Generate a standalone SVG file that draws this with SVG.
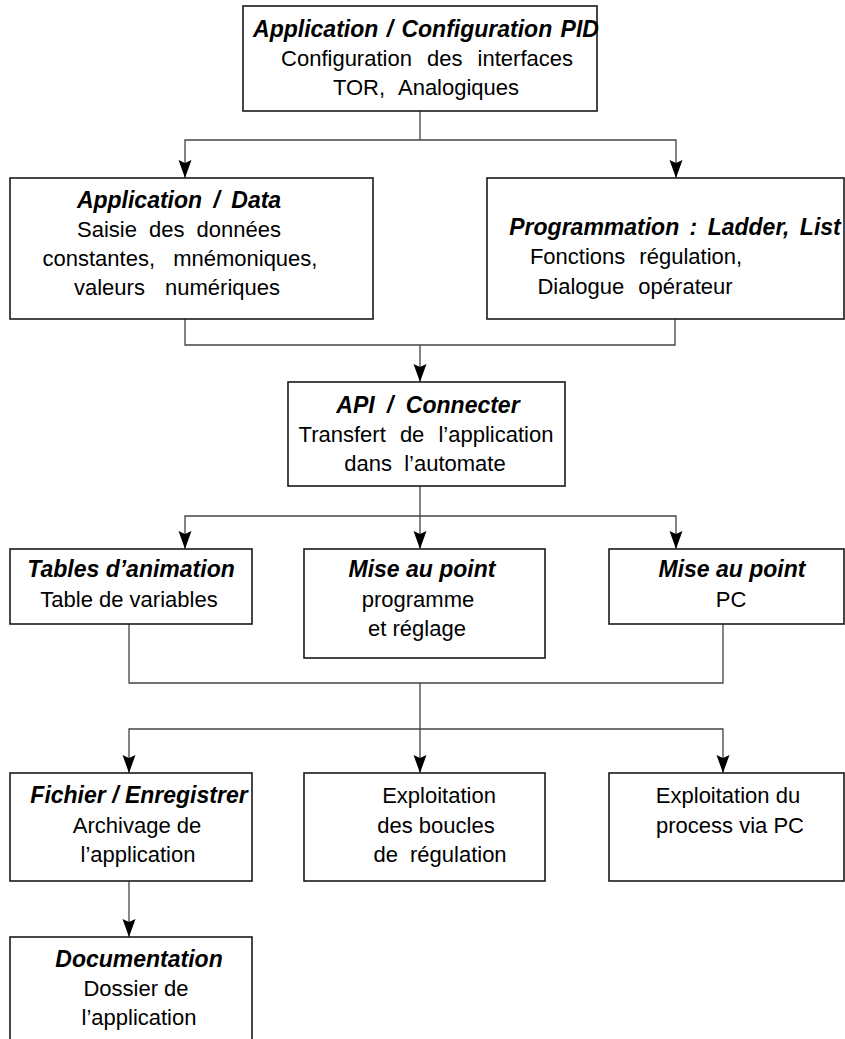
<svg xmlns="http://www.w3.org/2000/svg" width="845" height="1039" viewBox="0 0 845 1039">
<defs>
<style>
.box{fill:#fff;stroke:#1a1a1a;stroke-width:1.6}
.ln{fill:none;stroke:#444;stroke-width:1.3}
text{font-family:"Liberation Sans",Arial,sans-serif;font-size:22px;fill:#000;text-anchor:middle}
.t{font-weight:bold;font-style:italic;font-size:23px}
</style>
<marker id="ah" viewBox="-19 -8 20 16" refX="0" refY="0" markerWidth="20" markerHeight="16" markerUnits="userSpaceOnUse" orient="auto">
<path d="M0,0 L-18,-6.5 L-15,0 L-18,6.5 Z" fill="#000"/>
</marker>
</defs>
<rect width="845" height="1039" fill="#fff"/>
<g id="connectors">
<path class="ln" d="M420,111 V140"/>
<path class="ln" d="M420,140 H185 V178" marker-end="url(#ah)"/>
<path class="ln" d="M420,140 H676 V178" marker-end="url(#ah)"/>
<path class="ln" d="M185,319 V345 H675 V319"/>
<path class="ln" d="M420,345 V382" marker-end="url(#ah)"/>
<path class="ln" d="M420,486 V549" marker-end="url(#ah)"/>
<path class="ln" d="M420,516 H185 V549" marker-end="url(#ah)"/>
<path class="ln" d="M420,516 H676 V549" marker-end="url(#ah)"/>
<path class="ln" d="M129,624 V683 H723 V624"/>
<path class="ln" d="M420,683 V773" marker-end="url(#ah)"/>
<path class="ln" d="M420,729 H129 V773" marker-end="url(#ah)"/>
<path class="ln" d="M420,729 H723 V773" marker-end="url(#ah)"/>
<path class="ln" d="M129,881 V937" marker-end="url(#ah)"/>
</g>
<g id="n-config">
<rect class="box" x="243" y="6" width="354" height="105"/>
<text class="t" x="426" y="37" style="word-spacing:2px">Application / Configuration PID</text>
<text x="427" y="66" style="word-spacing:9px">Configuration des interfaces</text>
<text x="426" y="95" style="word-spacing:8px">TOR, Analogiques</text>
</g>
<g id="n-data">
<rect class="box" x="10" y="178" width="363" height="141"/>
<text class="t" x="179" y="208" style="word-spacing:5px">Application / Data</text>
<text x="179" y="237" style="word-spacing:6px">Saisie des données</text>
<text x="180" y="266" style="word-spacing:12px">constantes, mnémoniques,</text>
<text x="177" y="295" style="word-spacing:14px">valeurs numériques</text>
</g>
<g id="n-prog">
<rect class="box" x="487" y="178" width="357" height="141"/>
<text class="t" x="675" y="235" style="word-spacing:4px">Programmation : Ladder, List</text>
<text x="636" y="264" style="word-spacing:8px">Fonctions régulation,</text>
<text x="635" y="294" style="word-spacing:8px">Dialogue opérateur</text>
</g>
<g id="n-api">
<rect class="box" x="288" y="382" width="277" height="104"/>
<text class="t" x="428" y="413" style="word-spacing:6px">API / Connecter</text>
<text x="426" y="442" style="word-spacing:8px">Transfert de l’application</text>
<text x="425" y="471" style="word-spacing:6px">dans l’automate</text>
</g>
<g id="n-tables">
<rect class="box" x="10" y="549" width="242" height="75"/>
<text class="t" x="131" y="577">Tables d’animation</text>
<text x="129" y="607">Table de variables</text>
</g>
<g id="n-mise-prog">
<rect class="box" x="304" y="549" width="241" height="109"/>
<text class="t" x="422" y="577">Mise au point</text>
<text x="418" y="607">programme</text>
<text x="417" y="636">et réglage</text>
</g>
<g id="n-mise-pc">
<rect class="box" x="609" y="549" width="235" height="75"/>
<text class="t" x="732" y="577">Mise au point</text>
<text x="731" y="607">PC</text>
</g>
<g id="n-fichier">
<rect class="box" x="10" y="773" width="242" height="108"/>
<text class="t" x="139" y="803">Fichier / Enregistrer</text>
<text x="137" y="833">Archivage de</text>
<text x="138" y="862">l’application</text>
</g>
<g id="n-exploit">
<rect class="box" x="304" y="773" width="241" height="108"/>
<text x="439" y="803">Exploitation</text>
<text x="436" y="833">des boucles</text>
<text x="440" y="862" style="word-spacing:6px">de régulation</text>
</g>
<g id="n-process">
<rect class="box" x="609" y="773" width="235" height="108"/>
<text x="728" y="803">Exploitation du</text>
<text x="730" y="833">process via PC</text>
</g>
<g id="n-doc">
<rect class="box" x="10" y="937" width="242" height="110"/>
<text class="t" x="139" y="967">Documentation</text>
<text x="136" y="996">Dossier de</text>
<text x="139" y="1025">l’application</text>
</g>
</svg>
